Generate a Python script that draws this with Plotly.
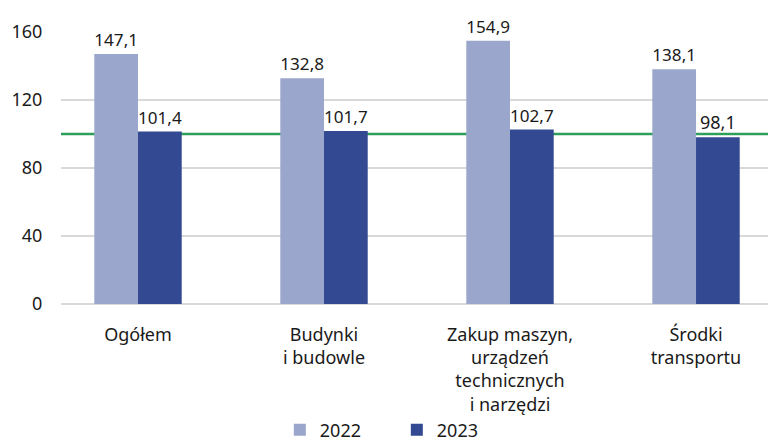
import plotly.graph_objects as go

kategorie = ["Ogółem", "Budynki<br>i budowle",
             "Zakup maszyn,<br>urządzeń<br>technicznych<br>i narzędzi",
             "Środki<br>transportu"]
lata = ["2022", "2023"]
wartosci_2022 = [147.1, 132.8, 154.9, 138.1]
wartosci_2023 = [101.4, 101.7, 102.7, 98.1]
osie_y = [0, 40, 80, 120, 160]

kolory = {"2022": "#9aa6cb", "2023": "#334a93"}
font = "Noto Sans"

fig = go.Figure()
for rok, wart in zip(lata, [wartosci_2022, wartosci_2023]):
    fig.add_trace(go.Bar(
        x=kategorie,
        y=wart,
        name=rok,
        marker_color=kolory[rok],
        marker_line_width=0,
        text=[f"{v:.1f}".replace(".", ",") for v in wart],
        textposition="outside",
        textfont=dict(size=18, color="#1a1a1a", family=font),
        cliponaxis=False,
    ))

fig.add_hline(y=100, line_color="#2e9e5b", line_width=2.5, layer="below")

fig.update_layout(
    barmode="group",
    bargap=0.53,
    bargroupgap=0,
    width=768,
    height=441,
    plot_bgcolor="white",
    paper_bgcolor="white",
    font=dict(family=font, size=18, color="#1a1a1a"),
    margin=dict(l=61, r=0, t=32, b=137),
    legend=dict(
        orientation="h",
        x=0.475, xanchor="center",
        yref="container", y=0.025, yanchor="middle",
        font=dict(size=18),
        entrywidth=72,
    ),
)

fig.update_xaxes(
    range=[-0.414, 3.387],
    showline=False,
    automargin=False,
    ticks="outside",
    ticklen=14,
    tickcolor="rgba(0,0,0,0)",
    tickfont=dict(size=18),
)

fig.update_yaxes(
    range=[0, 160],
    tickvals=osie_y,
    automargin=False,
    showgrid=True,
    gridcolor="#d9d9d9",
    gridwidth=1.5,
    zeroline=True,
    zerolinecolor="#d9d9d9",
    zerolinewidth=1.5,
    ticks="outside",
    ticklen=14,
    tickcolor="rgba(0,0,0,0)",
    tickfont=dict(size=18),
)

# strona ma domyślny margines 8px - usuwamy go
fig.write_html("out.html", config={"displayModeBar": False},
               post_script="document.body.style.margin='0';")
